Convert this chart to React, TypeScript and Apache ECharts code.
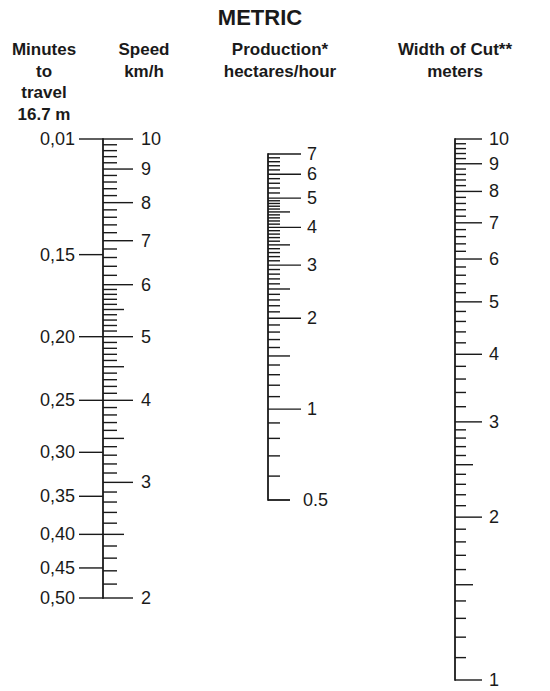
import React, { useEffect, useRef } from "react";
import * as echarts from "echarts";

// ---- data ----
const speedMajor = [10, 9, 8, 7, 6, 5, 4, 3, 2];
const speedLabels = ["10", "9", "8", "7", "6", "5", "4", "3", "2"];
const speedMedium = [5.5, 4.5, 3.5, 2.5];
const speedMinor = [
  9.8, 9.6, 9.4, 9.2, 8.8, 8.6, 8.4, 8.2, 7.8, 7.6, 7.4, 7.2, 6.8, 6.6, 6.4, 6.2,
  5.9, 5.8, 5.7, 5.6, 5.4, 5.3, 5.2, 5.1, 4.9, 4.8, 4.7, 4.6, 4.4, 4.3, 4.2, 4.1,
  3.9, 3.8, 3.7, 3.6, 3.4, 3.3, 3.2, 3.1, 2.9, 2.8, 2.7, 2.6, 2.4, 2.3, 2.2, 2.1,
];
const minutesValues = [0.1, 0.15, 0.2, 0.25, 0.3, 0.35, 0.4, 0.45, 0.5];
const minutesLabels = ["0,01", "0,15", "0,20", "0,25", "0,30", "0,35", "0,40", "0,45", "0,50"];

const productionMajor = [7, 6, 5, 4, 3, 2, 1];
const productionLabels = ["7", "6", "5", "4", "3", "2", "1"];
const productionEnd = [0.5];
const productionEndLabels = ["0.5"];
const productionMedium = [4.5, 3.5, 2.5, 1.5];
const productionMinor = [
  6.8, 6.6, 6.4, 6.2, 5.8, 5.6, 5.4, 5.2, 4.9, 4.8, 4.7, 4.6, 4.4, 4.3, 4.2, 4.1,
  3.9, 3.8, 3.7, 3.6, 3.4, 3.3, 3.2, 3.1, 2.9, 2.8, 2.7, 2.6, 2.4, 2.3, 2.2, 2.1,
  1.9, 1.8, 1.7, 1.6, 1.4, 1.3, 1.2, 1.1, 0.9, 0.8, 0.7, 0.6,
];

const widthMajor = [10, 9, 8, 7, 6, 5, 4, 3, 2, 1];
const widthLabels = ["10", "9", "8", "7", "6", "5", "4", "3", "2", "1"];
const widthMedium = [2.5, 1.5];
const widthMinor = [
  9.8, 9.6, 9.4, 9.2, 8.8, 8.6, 8.4, 8.2, 7.8, 7.6, 7.4, 7.2, 6.8, 6.6, 6.4, 6.2,
  5.8, 5.6, 5.4, 5.2, 4.8, 4.6, 4.4, 4.2, 3.8, 3.6, 3.4, 3.2,
  2.9, 2.8, 2.7, 2.6, 2.4, 2.3, 2.2, 2.1, 1.9, 1.8, 1.7, 1.6, 1.4, 1.3, 1.2, 1.1,
];

const INK = "#1a1a1a";
const FONT = "'Liberation Sans', Arial, Helvetica, sans-serif";

function ticks(
  grid: number,
  values: number[],
  len: number,
  side: number,
  labels?: string[],
  labelOffset = 0,
  lineWidth = 1.4
) {
  return {
    type: "custom",
    xAxisIndex: grid,
    yAxisIndex: grid,
    clip: false,
    silent: true,
    data: values.map((v) => [0, v]),
    renderItem: (params: any, api: any) => {
      const p = api.coord([0, api.value(1)]);
      const children: any[] = [
        {
          type: "line",
          shape: { x1: p[0], y1: p[1], x2: p[0] + side * len, y2: p[1] },
          style: { stroke: INK, lineWidth },
        },
      ];
      if (labels) {
        children.push({
          type: "text",
          x: p[0] + side * labelOffset,
          y: p[1],
          style: {
            text: labels[params.dataIndex],
            fill: INK,
            fontSize: 18,
            lineHeight: 18,
            fontFamily: FONT,
            align: side > 0 ? "left" : "right",
            verticalAlign: "middle",
          },
        });
      }
      return { type: "group", children };
    },
  };
}

export default function App() {
  const ref = useRef<HTMLDivElement>(null);
  useEffect(() => {
    if (!ref.current) return;
    const chart = echarts.init(ref.current, undefined, { renderer: "svg" });
    const hiddenX = (i: number) => ({
      type: "value",
      gridIndex: i,
      min: 0,
      max: 1,
      show: false,
    });
    const logY = (i: number, min: number, max: number) => ({
      type: "log",
      logBase: 10,
      gridIndex: i,
      min,
      max,
      axisLine: { show: true, lineStyle: { color: INK, width: 1.8 } },
      axisTick: { show: false },
      axisLabel: { show: false },
      splitLine: { show: false },
      minorTick: { show: false },
      minorSplitLine: { show: false },
    });
    const headerStyle = {
      fill: INK,
      fontSize: 17,
      fontWeight: "bold",
      fontFamily: FONT,
      align: "center",
      verticalAlign: "top",
      lineHeight: 21.5,
    };
    chart.setOption({
      animation: false,
      backgroundColor: "#ffffff",
      grid: [
        { left: 103, top: 139, width: 100, height: 459 },
        { left: 268, top: 154, width: 100, height: 346 },
        { left: 455, top: 139, width: 60, height: 541 },
      ],
      xAxis: [hiddenX(0), hiddenX(1), hiddenX(2)],
      yAxis: [logY(0, 2, 10), logY(1, 0.5, 7), logY(2, 1, 10)],
      graphic: [
        {
          type: "text",
          x: 260,
          y: 6,
          style: {
            text: "METRIC",
            fill: INK,
            fontSize: 22,
            fontWeight: "bold",
            fontFamily: FONT,
            align: "center",
            verticalAlign: "top",
          },
        },
        { type: "text", x: 44, y: 39, style: { ...headerStyle, text: "Minutes\nto\ntravel\n16.7 m" } },
        { type: "text", x: 144, y: 39, style: { ...headerStyle, text: "Speed\nkm/h" } },
        { type: "text", x: 280, y: 39, style: { ...headerStyle, text: "Production*\nhectares/hour" } },
        { type: "text", x: 455, y: 39, style: { ...headerStyle, text: "Width of Cut**\nmeters" } },
      ],
      series: [
        // speed scale
        ticks(0, speedMinor, 14, 1),
        ticks(0, speedMedium, 21, 1),
        ticks(0, speedMajor, 30, 1, speedLabels, 38),
        // minutes to travel 16.7 m (1 km/h ≈ 16.7 m/min)
        ticks(0, minutesValues.map((m) => 1 / m), 24, -1, minutesLabels, 28),
        // production scale
        ticks(1, productionMinor, 12, 1),
        ticks(1, productionMedium, 22, 1),
        ticks(1, productionMajor, 33, 1, productionLabels, 39),
        ticks(1, productionEnd, 22, 1, productionEndLabels, 35, 1.8),
        // width of cut
        ticks(2, widthMinor, 11, 1),
        ticks(2, widthMedium, 18, 1),
        ticks(2, widthMajor, 27, 1, widthLabels, 34),
      ],
    });
    return () => chart.dispose();
  }, []);
  return (
    <div
      ref={ref}
      style={{ position: "fixed", left: 0, top: 0, width: 550, height: 691, background: "#fff" }}
    />
  );
}
